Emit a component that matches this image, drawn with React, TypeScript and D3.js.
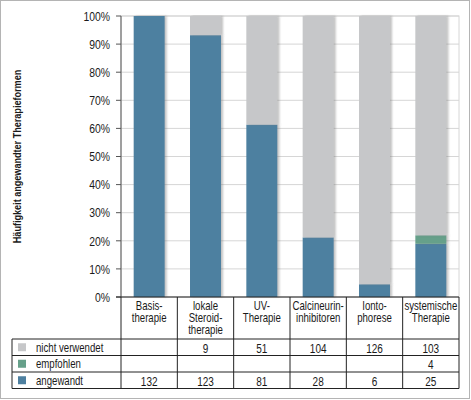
import * as d3 from 'd3';

// categories (line-broken as in the table header)
const categories = ['Basis', 'lokal', 'UV', 'Calci', 'Ionto', 'System'];
const categoryLines = [
  ['Basis-', 'therapie'],
  ['lokale', 'Steroid-', 'therapie'],
  ['UV-', 'Therapie'],
  ['Calcineurin-', 'inhibitoren'],
  ['Ionto-', 'phorese'],
  ['systemische', 'Therapie'],
];

// counts
const notUsed = [null, 9, 51, 104, 126, 103];
const recommended = [null, null, null, null, null, 4];
const applied = [132, 123, 81, 28, 6, 25];

const seriesKeys = ['angewandt', 'empfohlen', 'nicht verwendet'];
const seriesColors: Record<string, string> = {
  angewandt: '#4e80a0',
  empfohlen: '#66a08a',
  'nicht verwendet': '#c6c7c9',
};
const legendRows = [
  { key: 'nicht verwendet', values: notUsed },
  { key: 'empfohlen', values: recommended },
  { key: 'angewandt', values: applied },
];

const yTicks = [0, 0.1, 0.2, 0.3, 0.4, 0.5, 0.6, 0.7, 0.8, 0.9, 1];

const W = 471;
const H = 400;
const plotLeft = 121;
const plotRight = 459;
const plotTop = 16;
const plotBottom = 297;
const headerBottom = 339;
const rowH = 16.5;
const tableLeft = 12;

const font = '"Liberation Sans", Arial, sans-serif';
const squeeze = 0.77; // the original uses a condensed face

// text drawn with a horizontal squeeze to imitate the condensed font
function CText({
  x,
  y,
  rotate = 0,
  anchor = 'start',
  size = 12.5,
  weight = 'normal',
  dy = '0',
  children,
}: {
  x: number;
  y: number;
  rotate?: number;
  anchor?: string;
  size?: number;
  weight?: string;
  dy?: string;
  children: any;
}) {
  return (
    <g transform={`translate(${x},${y}) rotate(${rotate}) scale(${squeeze},1)`}>
      <text textAnchor={anchor} fontSize={size} fontWeight={weight} dy={dy} fill="#1a1a1a">
        {children}
      </text>
    </g>
  );
}

export default function App() {
  const table = categories.map((c, i) => ({
    cat: c,
    angewandt: applied[i] ?? 0,
    empfohlen: recommended[i] ?? 0,
    'nicht verwendet': notUsed[i] ?? 0,
  }));

  const stacked = d3.stack<any>().keys(seriesKeys).offset(d3.stackOffsetExpand)(table);

  const col = d3.scaleBand().domain(categories).range([plotLeft, plotRight]).padding(0);
  const bar = d3
    .scaleBand()
    .domain(categories)
    .range([plotLeft, plotRight])
    .paddingInner(0.45)
    .paddingOuter(0.225);
  const y = d3.scaleLinear().domain([0, 1]).range([plotBottom, plotTop]);
  const fmt = d3.format('.0%');

  const rowsBottom = headerBottom + rowH * legendRows.length;
  const colMid = (i: number) => col(categories[i])! + col.bandwidth() / 2;

  return (
    <svg
      width={W}
      height={H}
      style={{ position: 'absolute', left: 0, top: 0 }}
      fontFamily={font}
    >
      <defs>
        <filter id="barShadow" x="-20%" y="-5%" width="140%" height="110%">
          <feDropShadow dx="2" dy="0" stdDeviation="0.8" floodColor="#777" floodOpacity="0.45" />
        </filter>
      </defs>
      <rect x={0} y={0} width={W} height={H} fill="#fff" />
      <rect x={0.5} y={0.5} width={W - 2} height={H - 2} fill="none" stroke="#b4b4b4" />

      {/* plot frame + grid */}
      <rect
        x={plotLeft}
        y={plotTop}
        width={plotRight - plotLeft}
        height={plotBottom - plotTop}
        fill="none"
        stroke="#d6d6d6"
      />
      {yTicks.map((t) => (
        <line
          key={'g' + t}
          x1={plotLeft}
          x2={plotRight}
          y1={y(t)}
          y2={y(t)}
          stroke="#d6d6d6"
        />
      ))}

      {/* bars */}
      {stacked.map((s) => (
        <g key={s.key} fill={seriesColors[s.key]}>
          {s.map((d, i) =>
            d[1] - d[0] > 0 ? (
              <rect
                key={i}
                x={bar(categories[i])}
                width={bar.bandwidth()}
                y={y(d[1])}
                height={y(d[0]) - y(d[1])}
                filter="url(#barShadow)"
              />
            ) : null
          )}
        </g>
      ))}

      {/* y axis */}
      <line x1={plotLeft} x2={plotLeft} y1={plotTop} y2={plotBottom} stroke="#555" />
      {yTicks.map((t) => (
        <g key={'t' + t}>
          <line x1={plotLeft - 5} x2={plotLeft} y1={y(t)} y2={y(t)} stroke="#555" />
          <CText x={110} y={y(t)} dy="0.35em" anchor="end" size={13.5}>
            {fmt(t)}
          </CText>
        </g>
      ))}
      <CText
        x={21}
        y={(plotTop + plotBottom) / 2}
        rotate={-90}
        anchor="middle"
        size={11.8}
        weight="bold"
      >
        Häufigkeit angewandter Therapieformen
      </CText>

      {/* table */}
      <line x1={plotLeft - 5} x2={plotRight} y1={plotBottom} y2={plotBottom} stroke="#222" />
      {d3.range(categories.length + 1).map((i) => {
        const x = i < categories.length ? col(categories[i])! : plotRight;
        return (
          <line key={'v' + i} x1={x} x2={x} y1={plotBottom} y2={rowsBottom} stroke="#222" />
        );
      })}
      <line x1={tableLeft} x2={tableLeft} y1={headerBottom} y2={rowsBottom} stroke="#222" />
      {d3.range(legendRows.length + 1).map((r) => (
        <line
          key={'h' + r}
          x1={tableLeft}
          x2={plotRight}
          y1={headerBottom + r * rowH}
          y2={headerBottom + r * rowH}
          stroke="#222"
        />
      ))}

      {categoryLines.map((lines, i) =>
        lines.map((l, j) => (
          <CText key={i + '-' + j} x={colMid(i)} y={309.5 + j * 12} anchor="middle">
            {l}
          </CText>
        ))
      )}

      {legendRows.map((row, r) => {
        const cy = headerBottom + r * rowH + rowH / 2;
        return (
          <g key={row.key}>
            <rect x={18} y={cy - 4} width={8} height={8} fill={seriesColors[row.key]} />
            <CText x={36} y={cy} dy="0.35em">
              {row.key}
            </CText>
            {row.values.map((v, i) =>
              v == null ? null : (
                <CText key={i} x={colMid(i)} y={cy + 1} dy="0.35em" anchor="middle" size={13}>
                  {v}
                </CText>
              )
            )}
          </g>
        );
      })}
    </svg>
  );
}
